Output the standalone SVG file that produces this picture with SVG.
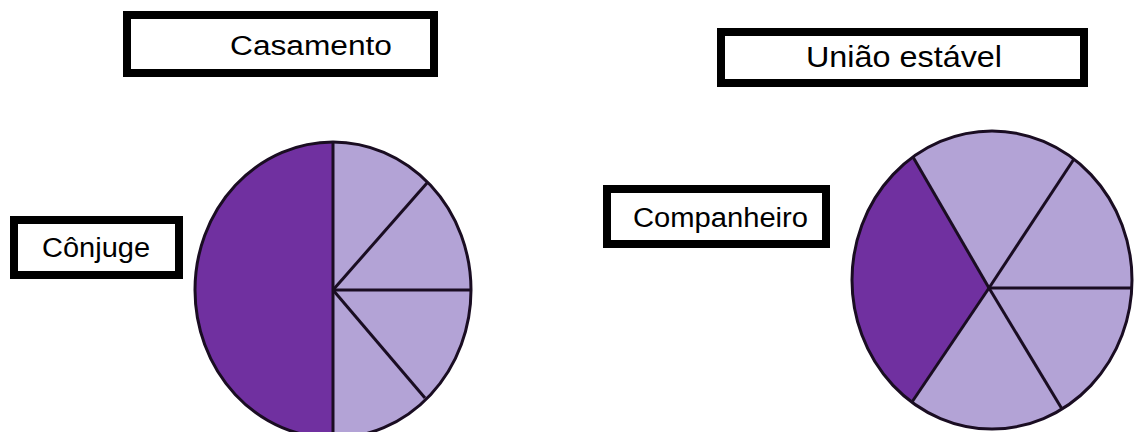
<svg xmlns="http://www.w3.org/2000/svg" width="1134" height="432" viewBox="0 0 1134 432">
<style>
.box{fill:#fff;stroke:#000;stroke-width:8}
.lbl{font-family:"Liberation Sans",Arial,sans-serif;fill:#000}
.light{fill:#b3a3d6}
.dark{fill:#7030a0}
.edge{fill:none;stroke:#1a0d22;stroke-width:3}
</style>
<rect width="1134" height="432" fill="#fff"/>
<g id="casamento">
<rect class="box" x="127" y="15" width="307" height="58"/>
<text class="lbl" x="230" y="55" font-size="27" textLength="162" lengthAdjust="spacingAndGlyphs">Casamento</text>
</g>
<g id="uniao">
<rect class="box" x="721" y="32" width="363" height="51"/>
<text class="lbl" x="806" y="67" font-size="30" textLength="196" lengthAdjust="spacingAndGlyphs">União estável</text>
</g>
<g id="conjuge">
<rect class="box" x="14" y="220" width="165" height="55"/>
<text class="lbl" x="42" y="257" font-size="27" textLength="108" lengthAdjust="spacingAndGlyphs">Cônjuge</text>
</g>
<g id="companheiro">
<rect class="box" x="607" y="189" width="219" height="55"/>
<text class="lbl" x="633" y="227" font-size="27" textLength="175" lengthAdjust="spacingAndGlyphs">Companheiro</text>
</g>
<g id="pie-casamento">
<ellipse class="light" cx="333" cy="290" rx="138" ry="148"/>
<path class="dark" d="M333,142 A138,148 0 0 0 333,438 Z"/>
<ellipse class="edge" cx="333" cy="290" rx="138" ry="148"/>
</g>
<g id="pie-uniao">
<ellipse class="light" cx="992" cy="280" rx="140" ry="149"/>
<path class="dark" d="M989,288 L913,157 A140,149 0 0 0 912,402 Z"/>
<ellipse class="edge" cx="992" cy="280" rx="140" ry="149"/>
</g>
<g id="connectors" class="edge">
<line x1="333" y1="142" x2="333" y2="438"/>
<line x1="333" y1="290" x2="471" y2="290"/>
<line x1="333" y1="290" x2="427" y2="183"/>
<line x1="333" y1="290" x2="425" y2="398"/>
<line x1="989" y1="288" x2="913" y2="157"/>
<line x1="989" y1="288" x2="1074" y2="159"/>
<line x1="989" y1="288" x2="1132" y2="288"/>
<line x1="989" y1="288" x2="1062" y2="409"/>
<line x1="989" y1="288" x2="912" y2="402"/>
</g>
</svg>
